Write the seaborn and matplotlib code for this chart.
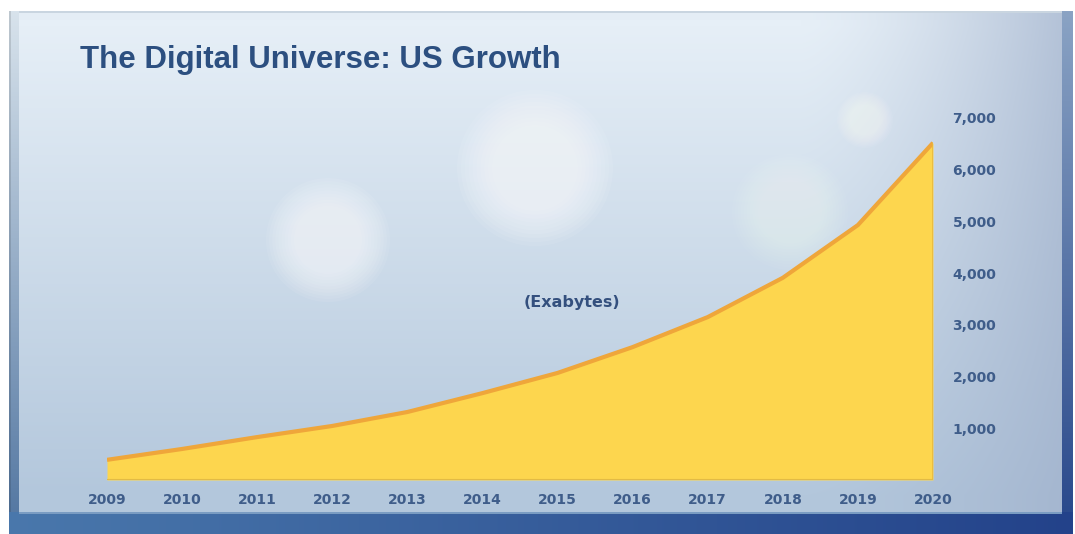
import numpy as np
import pandas as pd
import matplotlib
matplotlib.use("Agg")
import matplotlib.pyplot as plt
from matplotlib.patches import Circle
import seaborn as sns

# ---- data ----
years = [2009, 2010, 2011, 2012, 2013, 2014, 2015, 2016, 2017, 2018, 2019, 2020]
exabytes = [390, 600, 830, 1045, 1315, 1680, 2070, 2570, 3150, 3910, 4930, 6520]
ytick_values = [1000, 2000, 3000, 4000, 5000, 6000, 7000]
ytick_labels = ["1,000", "2,000", "3,000", "4,000", "5,000", "6,000", "7,000"]
title_text = "The Digital Universe: US Growth"
unit_text = "(Exabytes)"

df = pd.DataFrame({"year": years, "value": exabytes})

sns.set_theme(style="white")
plt.rcParams["font.family"] = ["Liberation Sans", "DejaVu Sans"]

W, H = 1075, 534
fig = plt.figure(figsize=(W / 100, H / 100), dpi=100)


def hexc(h):
    return np.array([int(h[i:i + 2], 16) for i in (1, 3, 5)]) / 255


# ---- background panel ----
yy, xx = np.mgrid[0:H, 0:W].astype(float)
top = hexc("#e6eff7")
bot = hexc("#b3c7dc")
right = hexc("#9fb0cb")
t = np.clip((yy - 25) / 470, 0, 1)[..., None]
img = top * (1 - t) + bot * t
r = (np.clip((xx - 800) / 260, 0, 1)[..., None]) ** 1.5
img = img * (1 - r * 0.7) + right * (r * 0.7)

img[:11, :, :] = 1.0
img[:, :9, :] = 1.0
img[:, 1073:, :] = 1.0
# top bevel (soft)
img[11:20, 9:1073, :] = img[11:20, 9:1073, :] * 0.96 + 0.04 * hexc("#c0cdd9")
img[11:13, 9:1073, :] = hexc("#c9d5e0")
# left bevel (light top -> darker blue bottom)
lt = np.clip((yy[11:, 9:19] - 11) / 500, 0, 1)[..., None]
img[11:, 9:19, :] = hexc("#d8e3ec") * (1 - lt) + hexc("#5679a3") * lt
img[11:, 9:11, :] = img[11:, 9:11, :] * 0.88
# right bevel
rt = np.clip((yy[11:, 1062:1073] - 11) / 500, 0, 1)[..., None]
img[11:, 1062:1073, :] = hexc("#8aa3c4") * (1 - rt) + hexc("#2b4a8c") * rt
# bottom dark band
bx = np.clip(xx[512:, 9:1073] / W, 0, 1)[..., None]
img[512:, 9:1073, :] = hexc("#4a78ac") * (1 - bx) + hexc("#23428a") * bx
img[512:514, 19:1062, :] = hexc("#7a9cc2")

bg = fig.add_axes([0, 0, 1, 1])
bg.imshow(img, extent=[0, W, H, 0], aspect="auto", interpolation="bilinear")
for (cx, cy, rad, a) in [(328, 240, 62, 0.075), (535, 168, 78, 0.08),
                         (865, 120, 28, 0.06), (790, 212, 58, 0.04)]:
    for k in range(10):
        bg.add_patch(Circle((cx, cy), rad * (1 - k * 0.05), color="white",
                            alpha=a, lw=0))
bg.set_xlim(0, W)
bg.set_ylim(H, 0)
bg.axis("off")

# ---- main chart ----
x0, x1 = 107, 933
y0, y1 = 480, 118
ax = fig.add_axes([x0 / W, (H - y0) / H, (x1 - x0) / W, (y0 - y1) / H])
ax.patch.set_alpha(0)

ax.fill_between(df["year"], 0, df["value"], color="#FDD64E", lw=0, zorder=2)
sns.lineplot(data=df, x="year", y="value", ax=ax, color="#EFA63A",
             linewidth=3.0, zorder=3, solid_capstyle="butt",
             solid_joinstyle="round")
ax.plot([years[-1], years[-1]], [0, exabytes[-1]], color="#E9B83C", lw=1.2, zorder=3)
ax.plot([years[0], years[-1]], [0, 0], color="#E2BB45", lw=1.5, zorder=3)

ax.set_xlim(years[0], years[-1])
ax.set_ylim(0, 7000)
ax.set_xticks(years)
ax.set_xticklabels([str(y) for y in years])
ax.set_yticks(ytick_values)
ax.set_yticklabels(ytick_labels)
ax.yaxis.tick_right()
ax.tick_params(axis="x", length=0, pad=9, labelsize=10, labelcolor="#3f5d8a")
ax.tick_params(axis="y", length=0, pad=14, labelsize=10, labelcolor="#3f5d8a")
for lab in ax.get_xticklabels() + ax.get_yticklabels():
    lab.set_fontweight("bold")
    lab.set_family(["DejaVu Sans"])
ax.set_xlabel("")
ax.set_ylabel("")
for s in ax.spines.values():
    s.set_visible(False)
ax.grid(False)

fig.text(80 / W, (H - 60) / H, title_text, fontsize=22.5, fontweight="bold",
         color="#2c4f80", ha="left", va="center")
fig.text(572 / W, (H - 302) / H, unit_text, fontsize=11.5, fontweight="bold",
         color="#34507e", ha="center", va="center", family=["DejaVu Sans"])

fig.savefig("out.png", dpi=100)
